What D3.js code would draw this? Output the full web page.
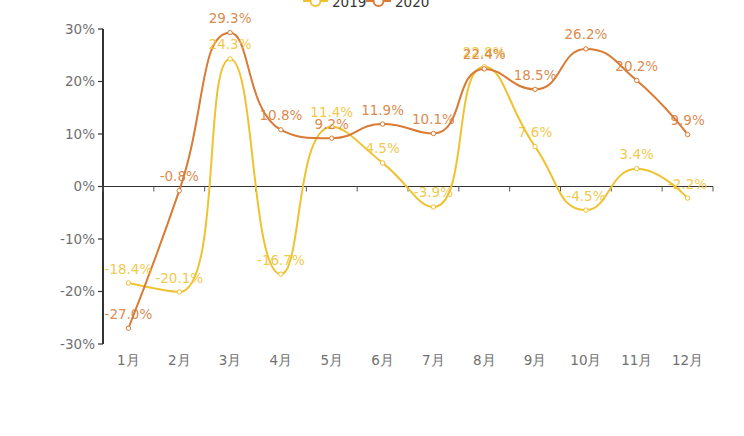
<!DOCTYPE html>
<html><head><meta charset="utf-8">
<script src="https://cdn.jsdelivr.net/npm/d3@7/dist/d3.min.js"></script>
<style>
html,body{margin:0;padding:0;background:#fff;}
svg{display:block;font-family:"DejaVu Sans",sans-serif;}
</style></head>
<body>
<svg id="c" width="744" height="436"></svg>
<script>
const months = ["1月","2月","3月","4月","5月","6月","7月","8月","9月","10月","11月","12月"];
const seriesNames = ["2019","2020"];
const values2019 = [-18.4,-20.1,24.3,-16.7,11.4,4.5,-3.9,22.8,7.6,-4.5,3.4,-2.2];
const values2020 = [-27.0,-0.8,29.3,10.8,9.2,11.9,10.1,22.4,18.5,26.2,20.2,9.9];
const yTicks = [-30,-20,-10,0,10,20,30];
const colors = ["#EFC232","#D97A35"];

const svg = d3.select("#c");
const L=103, R=713, T=29, B=344;
const x = d3.scaleBand().domain(months).range([L,R]);
const y = d3.scaleLinear().domain([-30,30]).range([B,T]);
const cx = m => x(m)+x.bandwidth()/2;
const FS = 13.5;

// ECharts-style smooth bezier (smooth = 0.5)
function smoothPath(pts, smooth){
  const p = d3.path();
  let prevX, prevY, cpx0, cpy0, cpx1, cpy1;
  const n = pts.length;
  for(let i=0;i<n;i++){
    const [px,py] = pts[i];
    if(i===0){ p.moveTo(px,py); cpx0=px; cpy0=py; }
    else {
      let nextCpx0, nextCpy0;
      if(i===n-1){ cpx1=px; cpy1=py; }
      else {
        const [nx,ny] = pts[i+1];
        let vx = nx-prevX, vy = ny-prevY;
        const dx0=px-prevX, dx1=nx-px, dy0=py-prevY, dy1=ny-py;
        const lp=Math.sqrt(dx0*dx0+dy0*dy0), ln=Math.sqrt(dx1*dx1+dy1*dy1);
        const r = ln/(ln+lp);
        nextCpx0 = px + vx*smooth*r;
        nextCpy0 = py + vy*smooth*r;
        nextCpx0 = Math.min(nextCpx0, Math.max(nx,px));
        nextCpy0 = Math.min(nextCpy0, Math.max(ny,py));
        nextCpx0 = Math.max(nextCpx0, Math.min(nx,px));
        nextCpy0 = Math.max(nextCpy0, Math.min(ny,py));
        vx = nextCpx0-px; vy = nextCpy0-py;
        cpx1 = px - vx*lp/ln; cpy1 = py - vy*lp/ln;
        cpx1 = Math.min(cpx1, Math.max(prevX,px));
        cpy1 = Math.min(cpy1, Math.max(prevY,py));
        cpx1 = Math.max(cpx1, Math.min(prevX,px));
        cpy1 = Math.max(cpy1, Math.min(prevY,py));
        vx = px-cpx1; vy = py-cpy1;
        nextCpx0 = px + vx*ln/lp; nextCpy0 = py + vy*ln/lp;
      }
      p.bezierCurveTo(cpx0,cpy0,cpx1,cpy1,px,py);
      cpx0=nextCpx0; cpy0=nextCpy0;
    }
    prevX=px; prevY=py;
  }
  return p.toString();
}

// Y axis
const gy = svg.append("g");
gy.append("line").attr("x1",L).attr("x2",L).attr("y1",T).attr("y2",B).attr("stroke","#333").attr("stroke-width",2);
yTicks.forEach(t=>{
  gy.append("line").attr("x1",L-5).attr("x2",L).attr("y1",y(t)).attr("y2",y(t)).attr("stroke","#333").attr("stroke-width",1.2);
  gy.append("text").attr("x",L-8).attr("y",y(t)+4.8).attr("text-anchor","end")
    .attr("font-size",FS).attr("fill","#707070").text(t+"%");
});

// X axis on zero
const gx = svg.append("g");
const y0 = y(0);
gx.append("line").attr("x1",L).attr("x2",R).attr("y1",y0).attr("y2",y0).attr("stroke","#333").attr("stroke-width",1);
months.forEach((m,i)=>{
  const bx = x(m);
  gx.append("line").attr("x1",bx).attr("x2",bx).attr("y1",y0).attr("y2",y0+5).attr("stroke","#555").attr("stroke-width",1);
  gx.append("text").attr("x",cx(m)).attr("y",365).attr("text-anchor","middle")
    .attr("font-size",FS).attr("fill","#707070").text(m);
});
gx.append("line").attr("x1",R).attr("x2",R).attr("y1",y0).attr("y2",y0+5).attr("stroke","#555");

const allSeries = [values2019, values2020];
// lines
allSeries.forEach((vals,si)=>{
  const pts = vals.map((v,i)=>[cx(months[i]), y(v)]);
  svg.append("path").attr("d",smoothPath(pts,0.5)).attr("fill","none")
    .attr("stroke",colors[si]).attr("stroke-width",2).attr("stroke-linejoin","round");
});
// symbols
allSeries.forEach((vals,si)=>{
  svg.append("g").selectAll("circle").data(vals).join("circle")
    .attr("cx",(d,i)=>cx(months[i])).attr("cy",d=>y(d)).attr("r",2.2)
    .attr("fill","#fff").attr("stroke",colors[si]).attr("stroke-width",1);
});
// labels
allSeries.forEach((vals,si)=>{
  svg.append("g").selectAll("text").data(vals).join("text")
    .attr("x",(d,i)=>cx(months[i])).attr("y",d=>y(d)-9.5).attr("text-anchor","middle")
    .attr("font-size",FS).attr("fill",colors[si]).attr("fill-opacity",0.9).text(d=>d.toFixed(1)+"%");
});

// legend (partially cut at top)
const legendX = [303, 366];
seriesNames.forEach((s,i)=>{
  const g = svg.append("g");
  const lx = legendX[i], ly = 1;
  g.append("line").attr("x1",lx).attr("x2",lx+25).attr("y1",ly).attr("y2",ly).attr("stroke",colors[i]).attr("stroke-width",2);
  g.append("circle").attr("cx",lx+12.5).attr("cy",ly).attr("r",5).attr("fill","#fff").attr("stroke",colors[i]).attr("stroke-width",2);
  g.append("text").attr("x",lx+29).attr("y",ly+5.5).attr("font-size",FS).attr("fill","#333").text(s);
});
</script>
</body></html>
